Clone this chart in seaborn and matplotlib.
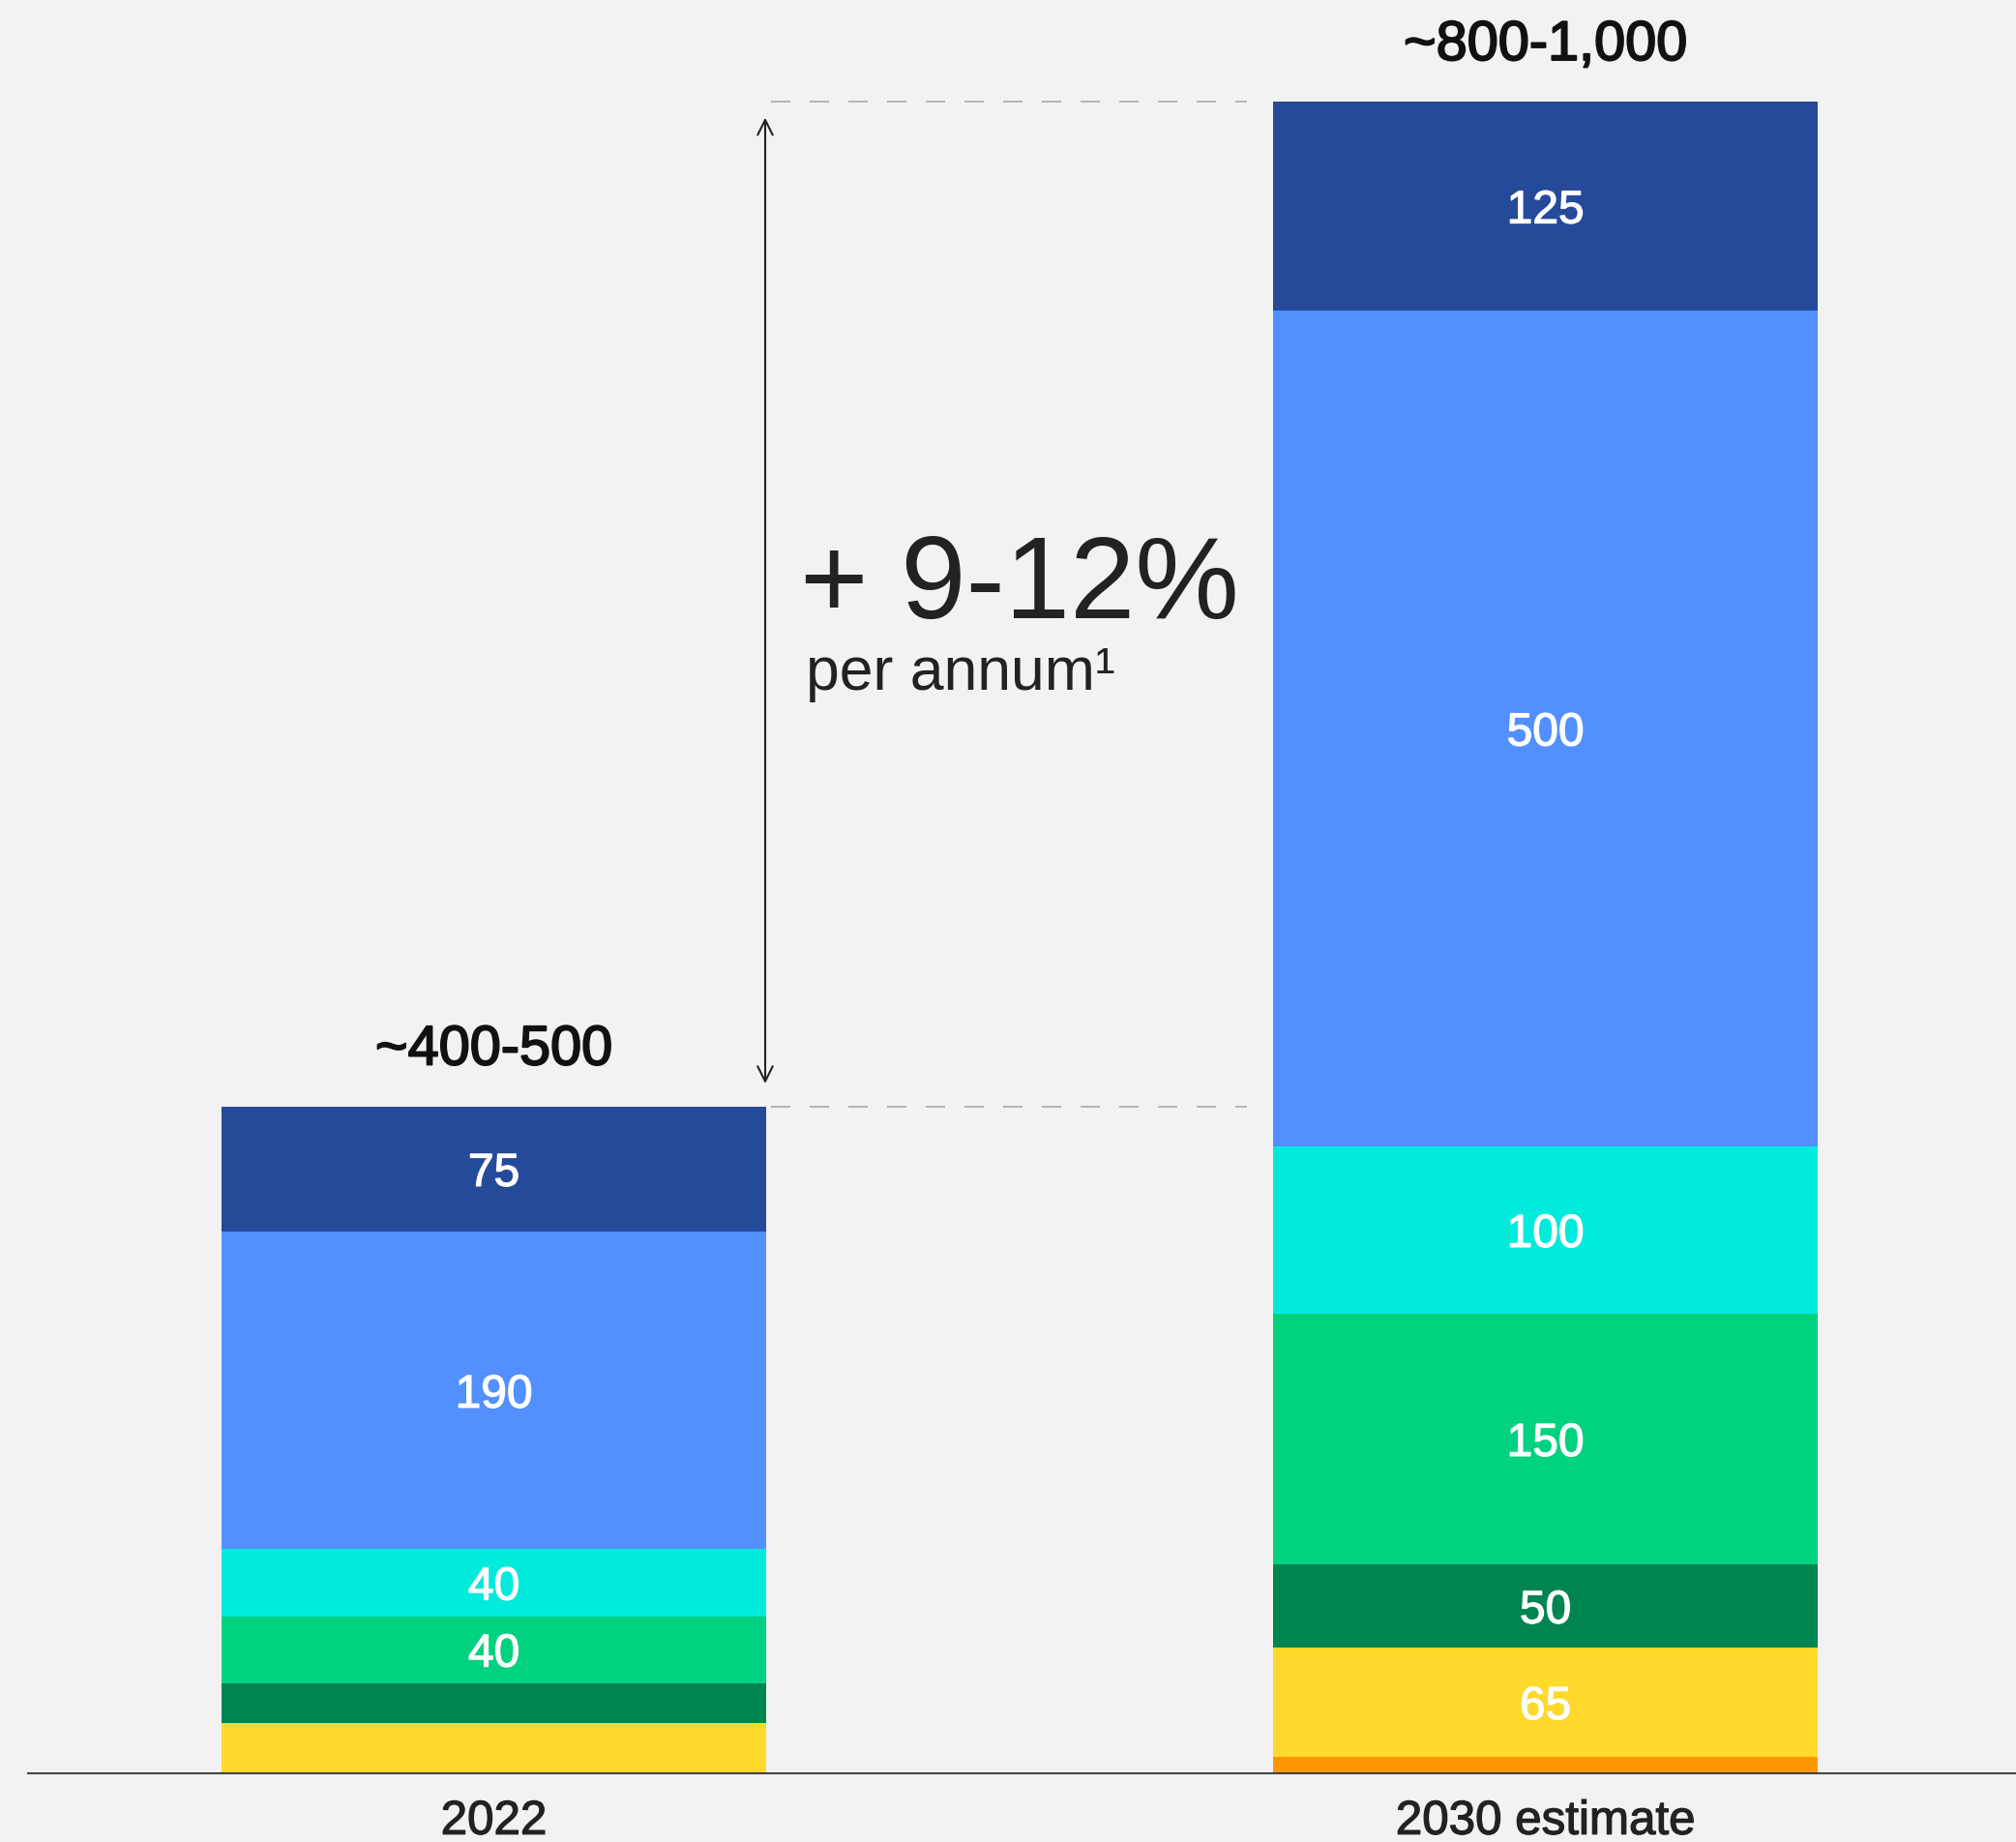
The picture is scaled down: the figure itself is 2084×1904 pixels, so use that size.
import matplotlib
matplotlib.use("Agg")
import matplotlib.pyplot as plt
import matplotlib.patheffects as pe
import seaborn as sns
import numpy as np
import pandas as pd

# categories and stacked segment values (bottom -> top)
years = ["2022", "2030 estimate"]
segments = ["orange", "yellow", "dark green", "green", "cyan", "blue", "navy"]
values_2022 = [0, 30, 24, 40, 40, 190, 75]
values_2030 = [10, 65, 50, 150, 100, 500, 125]
labelled_2022 = [False, False, False, True, True, True, True]
labelled_2030 = [False, True, True, True, True, True, True]
totals_text = ["~400-500", "~800-1,000"]
growth_text = "+ 9-12%"
growth_sub = "per annum\u00b9"

COLORS = ["#FF9600", "#FFD92B", "#008550", "#00D27F", "#00EBDC", "#5290FF", "#264A9A"]
BG = "#F2F2F2"
FONT = "Liberation Sans"


def medium(lw, color):
    # fake a medium weight by stroking the regular glyphs
    return [pe.withStroke(linewidth=lw, foreground=color)]


rows = []
for year, vals, shown in [(years[0], values_2022, labelled_2022), (years[1], values_2030, labelled_2030)]:
    cum = np.cumsum(vals)
    for seg, v, c, s in zip(segments, vals, cum, shown):
        rows.append(dict(year=year, segment=seg, value=v, cum=c, bottom=c - v, shown=s))
df = pd.DataFrame(rows)

fig = plt.figure(figsize=(20.84, 19.04), dpi=100, facecolor=BG)
ax = fig.add_axes([29 / 2084, 71 / 1904, 1 - 29 / 2084, 1833 / 1904])
ax.set_facecolor(BG)

BAR_W = 0.518
# stacked look: draw cumulative bars from the top layer down
for seg, color in reversed(list(zip(segments, COLORS))):
    sub = df[df["segment"] == seg]
    sns.barplot(data=sub, x="year", y="cum", order=years, color=color,
                saturation=1, width=BAR_W, errorbar=None, linewidth=0, ax=ax)

ax.set_xlim(-0.443, 1.4475)
ax.set_ylim(0, 1060.8)

# segment labels + totals above the bars
for i, year in enumerate(years):
    sub = df[df["year"] == year]
    for _, r in sub.iterrows():
        if r["shown"]:
            ax.text(i, r["bottom"] + r["value"] / 2, str(r["value"]), ha="center",
                    va="center_baseline", color="white", fontsize=34.5, family=FONT,
                    path_effects=medium(0.9, "white"))
    total = sub["cum"].max()
    ax.annotate(totals_text[i], xy=(i, total), xytext=(0, 31), textcoords="offset points",
                ha="center", va="baseline", fontsize=41.5, family=FONT, color="#111111",
                path_effects=medium(1.4, "#111111"))

# growth annotation
tot = df.groupby("year")["cum"].max().reindex(years).values
ax.hlines(tot, 0.2636, 0.716, colors="#B5B5B5", linewidth=1.44, linestyles=(0, (10, 10)))
ax.annotate("", xy=(0.258, tot[1] - 8), xytext=(0.258, tot[0] + 12),
            arrowprops=dict(arrowstyle="<->", lw=1.5, color="#222222", mutation_scale=28))
ax.text(0.291, 691, growth_text, ha="left", va="baseline", fontsize=87,
        family=FONT, color="#222222")
ax.text(0.2965, 648, growth_sub, ha="left", va="baseline", fontsize=45,
        family=FONT, color="#222222")

sns.despine(ax=ax, left=True, top=True, right=True)
ax.spines["bottom"].set_color("#444444")
ax.spines["bottom"].set_linewidth(1.5)
ax.set_yticks([])
ax.set_xlabel("")
ax.set_ylabel("")
ax.tick_params(axis="x", length=0, pad=20, labelsize=35.5, colors="#222222")
for t in ax.get_xticklabels():
    t.set_family(FONT)
    t.set_path_effects(medium(0.9, "#222222"))

fig.savefig("out.png", dpi=100, facecolor=BG)
